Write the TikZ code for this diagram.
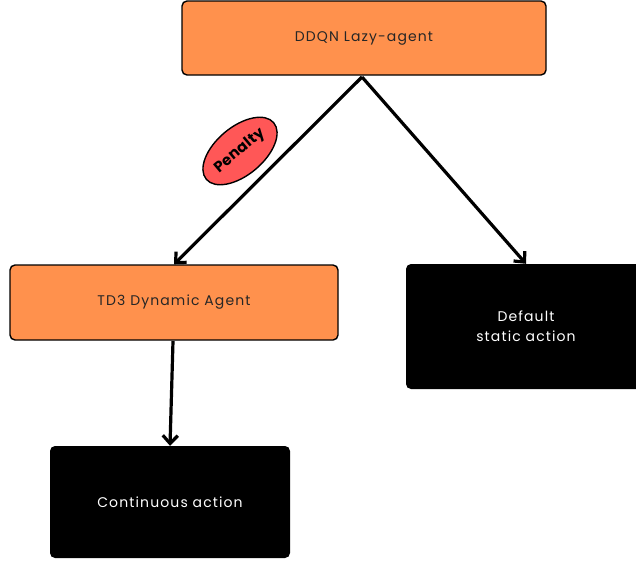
\documentclass[tikz,border=0pt]{standalone}
\usepackage{fontspec}
\setmainfont{Poppins}[LetterSpace=8]
\newfontfamily\penfont{Poppins}[LetterSpace=2]
\usetikzlibrary{arrows.meta,shapes.geometric}
\definecolor{boxorange}{HTML}{FF914D}
\definecolor{penred}{HTML}{FF5757}
\begin{document}
\begin{tikzpicture}[x=1pt,y=-1pt,
  orangebox/.style={draw=black,line width=1.4pt,fill=boxorange,rounded corners=5pt,
    text=black!85,font=\fontsize{14}{16}\selectfont,inner sep=0pt},
  blackbox/.style={fill=black,rounded corners=5pt,text=white,
    font=\fontsize{14}{20}\selectfont,align=center,inner sep=0pt},
  conn/.style={line width=3.2pt,-{Straight Barb[length=8pt,width=15pt,line width=3.2pt]}}]
\useasboundingbox (0,0) rectangle (636,565);
\node[orangebox,minimum width=364pt,minimum height=74pt] (ddqn) at (364,38) {DDQN Lazy-agent};
\node[orangebox,minimum width=328pt,minimum height=75pt] (td3) at (174,302.5) {TD3 Dynamic Agent};
\node[blackbox,minimum width=240pt,minimum height=125pt] (def) at (526,326.5) {Default\\static action};
\node[blackbox,minimum width=240pt,minimum height=112pt] (cont) at (170,502) {Continuous action};
\coordinate (top) at (362,77);
\draw[conn] (top) -- (td3.north);
\draw[conn] (top) -- (def.north);
\draw[conn] (173,341) -- (cont.north);
\node[draw=black,line width=1.4pt,fill=penred,ellipse,rotate=40,minimum width=88pt,minimum height=48pt,
  inner sep=0pt,font=\penfont\bfseries\fontsize{15}{17}\selectfont] (pen) at (240,151) {Penalty};
\end{tikzpicture}
\end{document}
